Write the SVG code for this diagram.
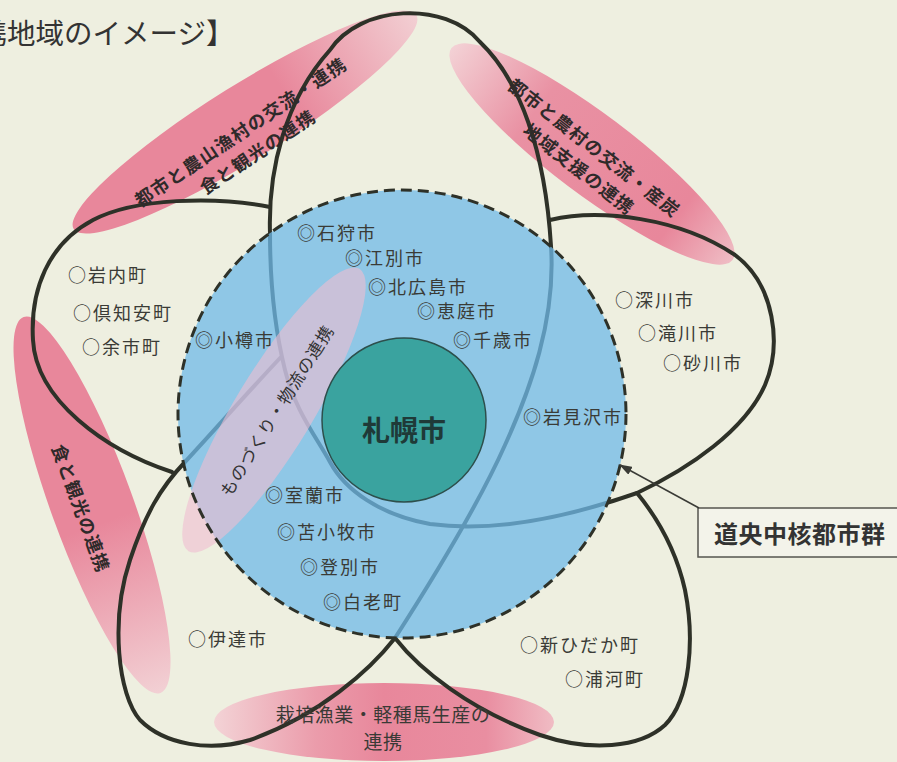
<svg xmlns="http://www.w3.org/2000/svg" width="897" height="762" viewBox="0 0 897 762">
  <defs>
    <style>
      .jp { font-family: "Noto Sans CJK JP", "Noto Sans CJK SC", sans-serif; }
      .lbl { font-family: "Noto Sans CJK JP", "Noto Sans CJK SC", sans-serif; font-size: 18px; letter-spacing: 2px; fill: #3a3b36; }
      .pinktxt { font-family: "Noto Sans CJK JP", "Noto Sans CJK SC", sans-serif; font-size: 18px; font-weight: 700; letter-spacing: 1.3px; fill: #2f2a2a; }
      .petal { fill: none; stroke: #2e3128; stroke-width: 4; stroke-linecap: round; stroke-linejoin: round; }
    </style>
    <linearGradient id="gUL" x1="0" y1="0" x2="1" y2="0">
      <stop offset="0" stop-color="#e8879b"/>
      <stop offset="0.62" stop-color="#e8879b"/>
      <stop offset="1" stop-color="#f2cfd3"/>
    </linearGradient>
    <linearGradient id="gUR" x1="0" y1="0" x2="1" y2="0">
      <stop offset="0" stop-color="#f3d1d5"/>
      <stop offset="0.3" stop-color="#e991a3"/>
      <stop offset="0.8" stop-color="#e8879b"/>
      <stop offset="1" stop-color="#efbcc4"/>
    </linearGradient>
    <linearGradient id="gL" x1="0" y1="0" x2="1" y2="0">
      <stop offset="0" stop-color="#e8879b"/>
      <stop offset="0.55" stop-color="#e8879b"/>
      <stop offset="1" stop-color="#f2d0d4"/>
    </linearGradient>
    <linearGradient id="gB" x1="0" y1="0" x2="1" y2="0">
      <stop offset="0" stop-color="#f3d3d6"/>
      <stop offset="0.3" stop-color="#eb9cab"/>
      <stop offset="0.5" stop-color="#e8879b"/>
      <stop offset="0.8" stop-color="#e98ea1"/>
      <stop offset="1" stop-color="#f0bcc4"/>
    </linearGradient>
    <marker id="arrow" markerWidth="13" markerHeight="9" refX="12" refY="4.5" orient="auto" markerUnits="userSpaceOnUse">
      <path d="M0,0 L13,4.5 L0,9 z" fill="#3a3b36"/>
    </marker>
  </defs>

  <rect id="background" x="0" y="0" width="897" height="762" fill="#eeefe0"/>

  <text id="title" class="jp" x="-21.5" y="44" font-size="28.5" fill="#333">携地域のイメージ】</text>

  <g id="bands">
    <ellipse cx="245" cy="122" rx="202" ry="37" transform="rotate(-32 245 122)" fill="url(#gUL)"/>
    <ellipse cx="592" cy="154" rx="176" ry="40" transform="rotate(37 592 154)" fill="url(#gUR)"/>
    <ellipse cx="92" cy="505" rx="200" ry="41" transform="rotate(70 92 505)" fill="url(#gL)"/>
    <ellipse cx="384" cy="722" rx="170" ry="39" fill="url(#gB)"/>
  </g>

  <g id="petals">
    <path class="petal" d="M550,220 C600,208 680,218 735,255 C775,285 782,345 765,385 C745,430 690,468 637,493 C560,520 490,532 430,524 C380,515 345,490 330,462 C315,435 295,410 285,370 C275,330 270,290 270,233 C268,170 285,100 330,50 C360,5 445,0 480,42 C520,80 545,150 551,246 C556,320 530,390 505,445 C485,490 445,560 395,638 C370,670 320,715 250,740 C210,752 165,745 140,720 C118,695 110,620 130,560 C145,515 160,488 185,462 C210,435 250,390 281,357"/>
    <path class="petal" d="M270,207 C215,196 135,198 93,220 C48,244 30,290 33,340 C36,400 105,450 172,472"/>
    <path class="petal" d="M395,638 C420,670 470,710 540,735 C590,752 640,748 665,725 C690,700 695,640 685,590 C675,545 655,515 637,493"/>
  </g>

  <g id="core-area">
    <circle cx="402" cy="414" r="224" fill="#6fbae8" fill-opacity="0.75"/>
    <ellipse cx="274" cy="410" rx="165" ry="39" transform="rotate(-58.8 274 410)" fill="#f0bcd0" fill-opacity="0.6"/>
    <circle cx="402" cy="414" r="224" fill="none" stroke="#2e3128" stroke-width="3" stroke-dasharray="11 6"/>
  </g>

  <g id="sapporo">
    <circle cx="404" cy="420" r="82" fill="#3aa39f" stroke="#2d4f4c" stroke-width="1.5"/>
    <text class="jp" x="404" y="441" font-size="28" font-weight="700" fill="#1f3a38" text-anchor="middle">札幌市</text>
  </g>

  <g id="band-texts">
    <g transform="rotate(-34 240 131)">
      <text class="pinktxt" x="240" y="131" text-anchor="middle" dominant-baseline="central">都市と農山漁村の交流・連携</text>
      <text class="pinktxt" x="243" y="157" text-anchor="middle" dominant-baseline="central">食と観光の連携</text>
    </g>
    <g transform="rotate(38 595 147)">
      <text class="pinktxt" x="595" y="147" text-anchor="middle" dominant-baseline="central">都市と農村の交流・産炭</text>
      <text class="pinktxt" x="596" y="173" text-anchor="middle" dominant-baseline="central">地域支援の連携</text>
    </g>
    <text class="pinktxt" x="82" y="508" text-anchor="middle" dominant-baseline="central" transform="rotate(70 82 508)">食と観光の連携</text>
    <text class="jp" x="276" y="410" font-size="17" letter-spacing="1" fill="#333" text-anchor="middle" dominant-baseline="central" transform="rotate(-58 276 410)">ものづくり・物流の連携</text>
    <text class="jp" x="383" y="722" font-size="19" letter-spacing="0.5" fill="#3a3a36" text-anchor="middle">栽培漁業・軽種馬生産の</text>
    <text class="jp" x="383" y="749" font-size="19" letter-spacing="0.5" fill="#3a3a36" text-anchor="middle">連携</text>
  </g>

  <g id="labels">
    <text class="lbl" x="297" y="240">◎石狩市</text>
    <text class="lbl" x="345" y="265">◎江別市</text>
    <text class="lbl" x="368" y="294">◎北広島市</text>
    <text class="lbl" x="417" y="318">◎恵庭市</text>
    <text class="lbl" x="453" y="347">◎千歳市</text>
    <text class="lbl" x="195" y="347">◎小樽市</text>
    <text class="lbl" x="68" y="282">○岩内町</text>
    <text class="lbl" x="73" y="320">○倶知安町</text>
    <text class="lbl" x="82" y="354">○余市町</text>
    <text class="lbl" x="615" y="307">○深川市</text>
    <text class="lbl" x="638" y="340">○滝川市</text>
    <text class="lbl" x="663" y="370">○砂川市</text>
    <text class="lbl" x="523" y="424">◎岩見沢市</text>
    <text class="lbl" x="265" y="502">◎室蘭市</text>
    <text class="lbl" x="277" y="539">◎苫小牧市</text>
    <text class="lbl" x="300" y="574">◎登別市</text>
    <text class="lbl" x="323" y="609">◎白老町</text>
    <text class="lbl" x="188" y="646">○伊達市</text>
    <text class="lbl" x="520" y="652">○新ひだか町</text>
    <text class="lbl" x="565" y="686">○浦河町</text>
  </g>

  <g id="callout">
    <rect x="698" y="508" width="215" height="49" fill="#f3f3ea" stroke="#55564f" stroke-width="1.5"/>
    <text class="jp" x="714" y="543" font-size="24" font-weight="700" fill="#333" letter-spacing="0.5">道央中核都市群</text>
  </g>

  <g id="connectors">
    <line x1="699" y1="508" x2="620" y2="465" stroke="#3a3b36" stroke-width="1.5" marker-end="url(#arrow)"/>
  </g>
</svg>
